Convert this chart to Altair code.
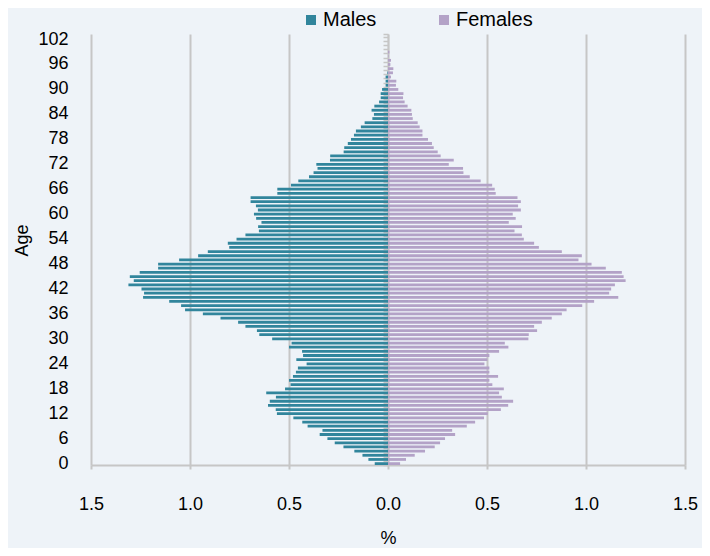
import altair as alt
import pandas as pd

ages = list(range(0, 104))

males = [
    0.067, 0.099, 0.129, 0.170, 0.225, 0.269, 0.306, 0.345, 0.331, 0.406,
    0.433, 0.478, 0.561, 0.567, 0.606, 0.597, 0.566, 0.615, 0.520, 0.492,
    0.500, 0.480, 0.465, 0.455, 0.411, 0.463, 0.429, 0.434, 0.500, 0.487,
    0.585, 0.650, 0.662, 0.720, 0.757, 0.846, 0.935, 1.025, 1.045, 1.105,
    1.237, 1.232, 1.245, 1.311, 1.284, 1.304, 1.254, 1.161, 1.161, 1.055,
    0.959, 0.910, 0.802, 0.809, 0.765, 0.720, 0.652, 0.656, 0.639, 0.666,
    0.677, 0.657, 0.667, 0.694, 0.694, 0.559, 0.559, 0.490, 0.453, 0.399,
    0.376, 0.356, 0.362, 0.293, 0.292, 0.224, 0.221, 0.203, 0.187, 0.172,
    0.162, 0.137, 0.118, 0.079, 0.071, 0.083, 0.069, 0.045, 0.037, 0.037,
    0.030, 0.012, 0.012, 0.012, 0.003, 0.0, 0.0, 0.0, 0.0, 0.0,
    0.0, 0.0, 0.0, 0.0,
]

females = [
    0.061, 0.091, 0.135, 0.187, 0.236, 0.263, 0.288, 0.339, 0.324, 0.398,
    0.440, 0.485, 0.504, 0.570, 0.607, 0.632, 0.575, 0.561, 0.585, 0.527,
    0.512, 0.556, 0.512, 0.512, 0.487, 0.502, 0.512, 0.561, 0.608, 0.590,
    0.709, 0.711, 0.753, 0.738, 0.777, 0.827, 0.878, 0.902, 0.981, 1.041,
    1.163, 1.117, 1.127, 1.146, 1.200, 1.190, 1.181, 1.100, 1.028, 0.962,
    0.979, 0.878, 0.762, 0.738, 0.686, 0.676, 0.639, 0.677, 0.610, 0.645,
    0.630, 0.671, 0.657, 0.671, 0.654, 0.544, 0.539, 0.526, 0.468, 0.413,
    0.381, 0.379, 0.307, 0.332, 0.266, 0.251, 0.231, 0.222, 0.202, 0.174,
    0.174, 0.160, 0.150, 0.125, 0.121, 0.118, 0.099, 0.084, 0.076, 0.078,
    0.052, 0.040, 0.042, 0.015, 0.025, 0.027, 0.012, 0.015, 0.003, 0.007,
    0.0, 0.0, 0.0, 0.0,
]

age_ticks = list(range(0, 103, 6))
x_ticks = [-1.5, -1.0, -0.5, 0.0, 0.5, 1.0, 1.5]
series = ["Males", "Females"]
colors = ["#31859C", "#B3A2C7"]

rows = []
for a, m, f in zip(ages, males, females):
    rows.append({"age": a, "sex": "Males", "value": -m})
    rows.append({"age": a, "sex": "Females", "value": f})
df = pd.DataFrame(rows)

FONT = "Liberation Sans"
GRID = "#C6C6C6"

yscale = alt.Scale(domain=ages[::-1], paddingInner=0.33, paddingOuter=0)

bars = alt.Chart(df).mark_bar().encode(
    x=alt.X(
        "value:Q",
        scale=alt.Scale(domain=[-1.5, 1.5], nice=False, zero=False),
        axis=alt.Axis(
            values=x_ticks,
            labelExpr="format(abs(datum.value), '.1f')",
            labelFlush=False,
            labelOverlap=False,
            title="%",
            titleFontWeight="normal",
            titleFontSize=18,
            titleFont=FONT,
            titleColor="#000000",
            titleBaseline="middle",
            titleY=73,
            labelFontSize=18,
            labelFont=FONT,
            labelColor="#000000",
            labelPadding=26,
            grid=True,
            gridColor=GRID,
            gridWidth=2,
            domain=True,
            domainColor=GRID,
            domainWidth=2,
            ticks=True,
            tickColor=GRID,
            tickWidth=2,
            tickSize=4,
        ),
    ),
    y=alt.Y(
        "age:O",
        scale=yscale,
        axis=alt.Axis(
            values=age_ticks,
            title="Age",
            titleFontWeight="normal",
            titleFontSize=18,
            titleFont=FONT,
            titleColor="#000000",
            titleAngle=-90,
            titleBaseline="middle",
            titleAlign="center",
            titleX=-69,
            titleY=206,
            labelFontSize=18,
            labelFont=FONT,
            labelColor="#000000",
            labelPadding=23,
            ticks=False,
            tickSize=0,
            domain=False,
            grid=False,
        ),
    ),
    color=alt.Color(
        "sex:N",
        scale=alt.Scale(domain=series, range=colors),
        legend=alt.Legend(
            title=None,
            orient="none",
            legendX=210,
            legendY=-24,
            direction="horizontal",
            symbolType="square",
            symbolSize=100,
            symbolStrokeWidth=0,
            labelFontSize=20,
            labelFont=FONT,
            labelColor="#000000",
            labelOffset=2,
            columnPadding=57,
            padding=0,
        ),
    ),
)

center_axis = alt.Chart(df).mark_tick(opacity=0).encode(
    y=alt.Y(
        "age:O",
        scale=yscale,
        axis=alt.Axis(
            orient="left",
            offset=-297,
            labels=False,
            title=None,
            ticks=True,
            tickSize=5,
            tickBand="extent",
            tickColor=GRID,
            tickWidth=1.5,
            domain=True,
            domainColor=GRID,
            domainWidth=1.5,
            grid=False,
        ),
    ),
)

chart = (
    alt.layer(bars, center_axis)
    .resolve_axis(y="independent")
    .properties(
        width=594,
        height=431,
        background="#EEF3F8",
        autosize=alt.AutoSizeParams(type="none"),
        padding={"left": 83, "top": 26, "right": 17, "bottom": 83},
    )
    .configure_view(stroke=None)
)

chart.save("out.html", embed_options={"renderer": "svg", "actions": False})
